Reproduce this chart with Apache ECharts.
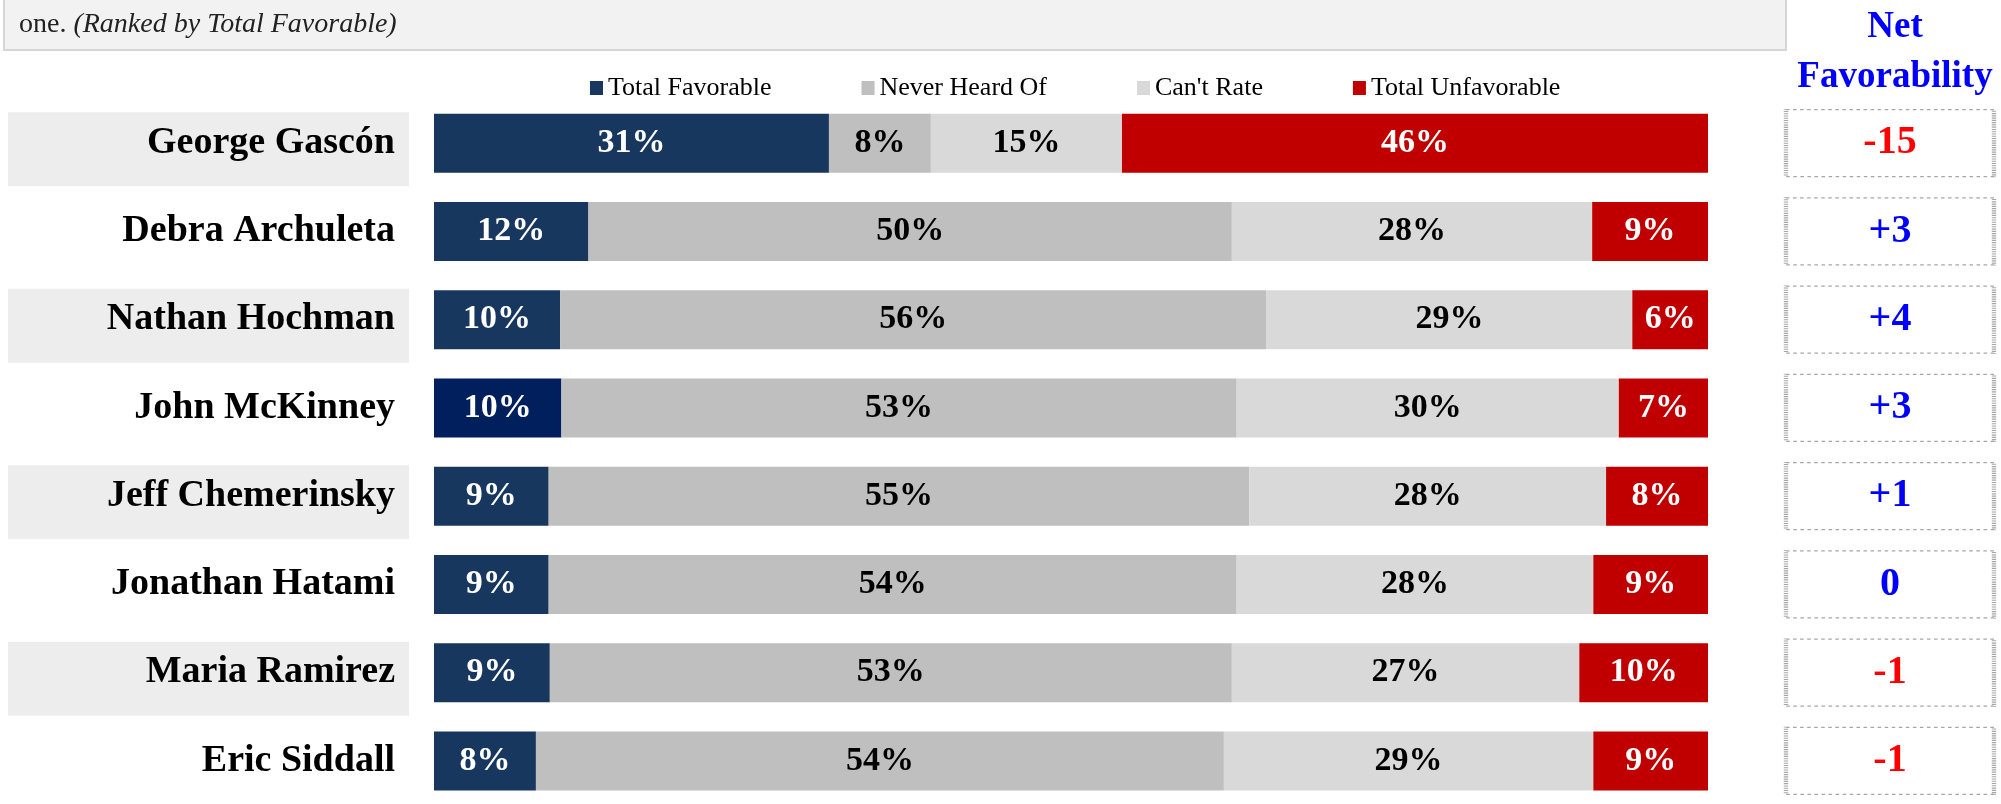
<!DOCTYPE html>
<html>
<head>
<meta charset="utf-8">
<script src="https://cdn.jsdelivr.net/npm/echarts@6/dist/echarts.min.js"></script>
<style>
html,body{margin:0;padding:0;background:#fff;}
#main{width:2001px;height:804px;}
</style>
</head>
<body>
<div id="main"></div>
<script>
// candidates, top to bottom (ranked by total favorable)
var names = ['George Gascón', 'Debra Archuleta', 'Nathan Hochman', 'John McKinney',
             'Jeff Chemerinsky', 'Jonathan Hatami', 'Maria Ramirez', 'Eric Siddall'];
var seriesNames = ['Total Favorable', 'Never Heard Of', "Can't Rate", 'Total Unfavorable'];
var favorable   = [31, 12, 10, 10,  9,  9,  9,  8];
var neverHeard  = [ 8, 50, 56, 53, 55, 54, 53, 54];
var cantRate    = [15, 28, 29, 30, 28, 28, 27, 29];
var unfavorable = [46,  9,  6,  7,  8,  9, 10,  9];
var netFav      = [-15, 3,  4,  3,  1,  0, -1, -1];

var serif = '"Liberation Serif", "DejaVu Serif", serif';
var myChart = echarts.init(document.getElementById('main'));

var cols = [favorable, neverHeard, cantRate, unfavorable];
var colors = ['#17375E', '#BFBFBF', '#D9D9D9', '#C00000'];
var labelColors = ['#fff', '#000', '#000', '#fff'];

// 100% stacked, like the excel original
var totals = names.map(function (n, i) {
    return favorable[i] + neverHeard[i] + cantRate[i] + unfavorable[i];
});

var barSeries = cols.map(function (arr, k) {
    return {
        name: seriesNames[k],
        type: 'bar',
        stack: 'all',
        barWidth: 59,
        xAxisIndex: 0,
        yAxisIndex: 0,
        itemStyle: {color: colors[k]},
        label: {
            show: true,
            position: 'inside',
            color: labelColors[k],
            fontFamily: serif,
            fontSize: 34,
            fontWeight: 'bold',
            formatter: function (p) {
                return arr[p.dataIndex] + '%';
            }
        },
        data: arr.map(function (v, i) {
            var item = {value: v / totals[i] * 100};
            if (k === 0 && names[i] === 'John McKinney') {
                item.itemStyle = {color: '#001F5C'};
            }
            return item;
        })
    };
});

var netSeries = {
    name: 'net',
    type: 'scatter',
    xAxisIndex: 1,
    yAxisIndex: 1,
    symbol: 'rect',
    symbolSize: [208, 67],
    silent: true,
    itemStyle: {
        color: '#fff',
        opacity: 1,
        borderColor: '#A6A6A6',
        borderWidth: 2.5,
        borderType: [2, 2]
    },
    label: {
        show: true,
        position: 'inside',
        fontFamily: serif,
        fontSize: 40,
        fontWeight: 'bold',
        formatter: function (p) {
            var v = p.value[2];
            return v > 0 ? '+' + v : '' + v;
        }
    },
    data: netFav.map(function (v, i) {
        return {
            value: [0, names[i], v],
            label: {color: v < 0 ? '#FF0000' : '#0000FF'}
        };
    })
};

var option = {
    animation: false,
    backgroundColor: '#fff',
    graphic: [
        {
            type: 'rect',
            shape: {x: 4, y: -4, width: 1782, height: 54},
            style: {fill: '#F2F2F2', stroke: '#D6D6D6', lineWidth: 2},
            silent: true
        },
        {
            type: 'text',
            x: 19,
            y: 25,
            style: {
                text: 'one. {i|(Ranked by Total Favorable)}',
                fontFamily: serif,
                fontSize: 28,
                fill: '#222',
                verticalAlign: 'middle',
                rich: {
                    i: {fontFamily: serif, fontSize: 28, fontStyle: 'italic', fill: '#222'}
                }
            },
            silent: true
        },
        {
            type: 'text',
            x: 1895,
            y: 2,
            style: {
                text: 'Net\nFavorability',
                fontFamily: serif,
                fontSize: 37,
                fontWeight: 'bold',
                fill: '#0000FF',
                align: 'center',
                lineHeight: 50
            },
            silent: true
        }
    ],
    legend: {
        data: seriesNames,
        left: 585,
        top: 68,
        icon: 'rect',
        itemWidth: 13,
        itemHeight: 14,
        itemGap: 90,
        selectedMode: false,
        textStyle: {fontFamily: serif, fontSize: 26, color: '#000', lineHeight: 30}
    },
    grid: [
        {left: 434, width: 1274, top: 99, height: 706, outerBoundsMode: 'none'},
        {left: 1786, width: 208, top: 99, height: 706, outerBoundsMode: 'none'}
    ],
    xAxis: [
        {type: 'value', gridIndex: 0, min: 0, max: 100, show: false},
        {type: 'value', gridIndex: 1, min: -1, max: 1, show: false}
    ],
    yAxis: [
        {
            type: 'category',
            gridIndex: 0,
            data: names,
            inverse: true,
            axisLine: {show: false},
            axisTick: {show: false},
            splitLine: {show: false},
            axisLabel: {
                margin: 25,
                padding: [12, 0, 0, 0],
                formatter: function (v, i) {
                    return (i % 2 === 0 ? '{hl|' : '{pl|') + v + '}';
                },
                rich: {
                    hl: {
                        fontFamily: serif, fontSize: 38, fontWeight: 'bold', color: '#000',
                        backgroundColor: '#EDEDED', width: 387, height: 62, lineHeight: 62,
                        align: 'right', padding: [0, 14, 12, 0]
                    },
                    pl: {
                        fontFamily: serif, fontSize: 38, fontWeight: 'bold', color: '#000',
                        width: 387, height: 62, lineHeight: 62,
                        align: 'right', padding: [0, 14, 12, 0]
                    }
                }
            }
        },
        {
            type: 'category',
            gridIndex: 1,
            data: names,
            inverse: true,
            show: false
        }
    ],
    series: barSeries.concat([netSeries])
};
myChart.setOption(option);
</script>
</body>
</html>
